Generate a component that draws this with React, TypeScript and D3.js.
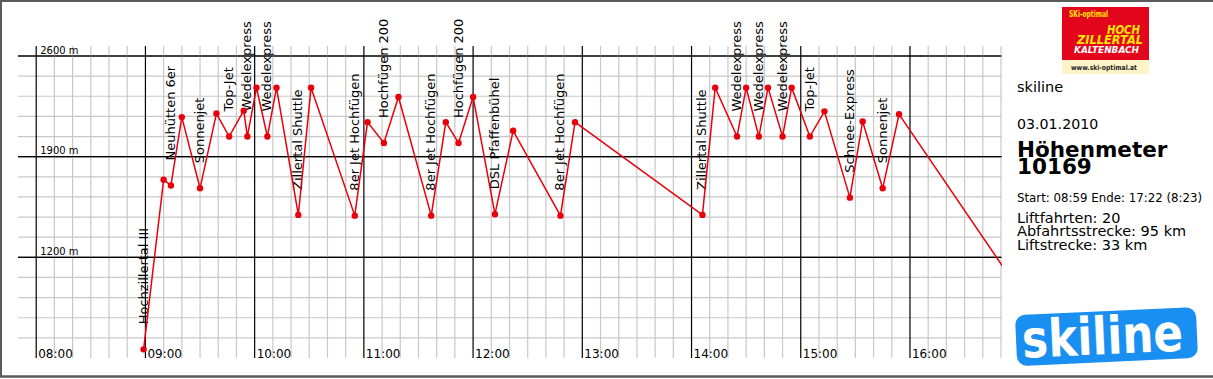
import React from "react";
import * as d3 from "d3";

// ---- data ----
const pointTimes = [
  "08:59", "09:10", "09:14", "09:20", "09:30", "09:39", "09:46", "09:54", "09:56", "10:01",
  "10:07", "10:12", "10:24", "10:31", "10:55", "11:02", "11:11", "11:19", "11:37", "11:45",
  "11:52", "12:00", "12:12", "12:22", "12:48", "12:56", "14:06", "14:13", "14:25", "14:30",
  "14:37", "14:42", "14:50", "14:55", "15:05", "15:13", "15:27", "15:34", "15:45", "15:54",
  "17:22",
];
const pointAltitudes = [
  560, 1740, 1700, 2175, 1680, 2200, 2040, 2220, 2040, 2380,
  2040, 2380, 1495, 2380, 1490, 2140, 1995, 2315, 1490, 2140,
  1995, 2315, 1500, 2080, 1490, 2140, 1495, 2380, 2040, 2380,
  2040, 2380, 2040, 2380, 2040, 2215, 1615, 2145, 1680, 2195,
  560,
];
// index of the point where each lift ride starts
const liftStartIndex = [0, 2, 4, 6, 8, 10, 12, 14, 16, 18, 20, 22, 24, 26, 28, 30, 32, 34, 36, 38];
const liftNames = [
  "Hochzillertal III", "Neuhütten 6er", "Sonnenjet", "Top-Jet", "Wedelexpress", "Wedelexpress",
  "Zillertal Shuttle", "8er Jet Hochfügen", "Hochfügen 2000", "8er Jet Hochfügen", "Hochfügen 2000",
  "DSL Pfaffenbühel", "8er Jet Hochfügen", "Zillertal Shuttle", "Wedelexpress", "Wedelexpress",
  "Wedelexpress", "Top-Jet", "Schnee-Express", "Sonnenjet",
];
const hourLabels = ["08:00", "09:00", "10:00", "11:00", "12:00", "13:00", "14:00", "15:00", "16:00"];
const altitudeLabels = [2600, 1900, 1200];
const timeDomain = ["07:50", "16:50"];
const altitudeDomain = [500, 2600];

const infoTitle = "skiline";
const infoDate = "03.01.2010";
const infoHeadline = "Höhenmeter";
const infoTotal = "10169";
const infoStartEnd = "Start: 08:59 Ende: 17:22 (8:23)";
const infoStats = ["Liftfahrten: 20", "Abfahrtsstrecke: 95 km", "Liftstrecke: 33 km"];

const FONT = "'DejaVu Sans', sans-serif";

export default function App() {
  const W = 1213, H = 379;
  const parse = d3.timeParse("%H:%M");
  const x = d3.scaleTime()
    .domain([parse(timeDomain[0])!, parse(timeDomain[1])!])
    .range([18, 1001]);
  const y = d3.scaleLinear().domain(altitudeDomain).range([358, 56]);

  const gridTop = 46;
  const gridBottom = y(altitudeDomain[0]);

  // vertical grid ticks every 10 min from 08:00
  const vTicks = d3.timeMinute.every(10)!.range(parse("08:00")!, d3.timeMinute.offset(parse(timeDomain[1])!, 1));
  const hourSet = new Set(hourLabels);
  const fmt = d3.timeFormat("%H:%M");

  // horizontal grid lines every 140 m
  const hTicks = d3.range(altitudeDomain[1], altitudeDomain[0], -140);
  const majorAlt = new Set(altitudeLabels);

  const pts = pointTimes.map((t, i) => ({ t: parse(t)!, a: pointAltitudes[i] }));
  const line = d3.line<{ t: Date; a: number }>().x((d) => x(d.t)).y((d) => y(d.a));

  const red = "#e8000b";

  return (
    <svg width={W} height={H} style={{ position: "absolute", left: 0, top: 0, background: "#fff" }} fontFamily={FONT}>
      <defs>
        <clipPath id="plotClip">
          <rect x={18} y={0} width={1001 - 18 + 1} height={H} />
        </clipPath>
        <clipPath id="labelClip">
          <rect x={0} y={19} width={1001} height={H} />
        </clipPath>
      </defs>
      <rect x={0} y={0} width={W} height={H} fill="#fff" />

      {/* horizontal grid */}
      {hTicks.map((a) => (
        <line key={"h" + a} x1={18} x2={1001.5} y1={y(a)} y2={y(a)}
          stroke={majorAlt.has(a) ? "#000" : "#c8c8c8"} strokeWidth={majorAlt.has(a) ? 1.2 : 1.2} />
      ))}
      {/* vertical grid */}
      {vTicks.map((t) => {
        const major = hourSet.has(fmt(t));
        return (
          <line key={"v" + +t} x1={x(t)} x2={x(t)} y1={gridTop} y2={gridBottom}
            stroke={major ? "#000" : "#c8c8c8"} strokeWidth={1.2} />
        );
      })}
      {/* redraw major horizontal lines on top */}
      {altitudeLabels.map((a) => (
        <line key={"hm" + a} x1={18} x2={1001.5} y1={y(a)} y2={y(a)} stroke="#000" strokeWidth={1.2} />
      ))}

      {/* axis labels */}
      {altitudeLabels.map((a) => (
        <text key={"al" + a} x={x(parse("08:00")!) + 4} y={y(a) - 2.5} fontSize={10} fill="#000">
          {a} m
        </text>
      ))}
      {hourLabels.map((h) => (
        <text key={"hl" + h} x={x(parse(h)!) + 2} y={gridBottom} fontSize={12} fill="#000">
          {h}
        </text>
      ))}

      {/* lift labels */}
      <g clipPath="url(#labelClip)">
        {liftStartIndex.map((idx, i) => {
          const px = x(pts[idx].t);
          const py = y(pts[idx].a);
          return (
            <text key={"lift" + i} transform={`translate(${px + 4},${py - 25}) rotate(-90)`}
              fontSize={13} fill="#000">
              {liftNames[i]}
            </text>
          );
        })}
      </g>

      {/* altitude profile */}
      <g clipPath="url(#plotClip)">
        <path d={line(pts)!} fill="none" stroke={red} strokeWidth={1.5} />
        {pts.map((p, i) => (
          <circle key={"p" + i} cx={x(p.t)} cy={y(p.a)} r={3.2} fill={red} />
        ))}
      </g>

      {/* Ski-optimal logo */}
      <g>
        <rect x={1062} y={7} width={87} height={53} fill="#e3051b" />
        <rect x={1062} y={60} width={87} height={14} fill="#fdf5c9" />
        <text x={1069} y={17} fontSize={8} fontWeight="bold" fill="#ffe600" textLength={39} lengthAdjust="spacingAndGlyphs">SKi-optimal</text>
        <text x={1107} y={34} fontSize={12} fontWeight="bold" fontStyle="italic" fill="#ffe600" textLength={33} lengthAdjust="spacingAndGlyphs">HOCH</text>
        <text x={1077} y={44} fontSize={12} fontWeight="bold" fontStyle="italic" fill="#ffe600" textLength={66} lengthAdjust="spacingAndGlyphs">ZILLERTAL</text>
        <text x={1074} y={52.5} fontSize={8.5} fontWeight="bold" fontStyle="italic" fill="#fff" textLength={65} lengthAdjust="spacingAndGlyphs">KALTENBACH</text>
        <text x={1071} y={69.5} fontSize={7} fontWeight="bold" fill="#222" textLength={66} lengthAdjust="spacingAndGlyphs">www.ski-optimal.at</text>
      </g>

      {/* info panel */}
      <text x={1017} y={92} fontSize={14.5} fill="#000">{infoTitle}</text>
      <text x={1017} y={129.3} fontSize={14.2} fill="#000">{infoDate}</text>
      <text x={1017} y={156.7} fontSize={21.5} fontWeight="bold" fill="#000">{infoHeadline}</text>
      <text x={1017} y={173.7} fontSize={21.5} fontWeight="bold" fill="#000">{infoTotal}</text>
      <text x={1017} y={201.5} fontSize={11.8} fill="#000">{infoStartEnd}</text>
      {infoStats.map((s, i) => (
        <text key={"st" + i} x={1017} y={222.5 + i * 13.6} fontSize={14.5} fill="#000">{s}</text>
      ))}

      {/* skiline logo */}
      <g transform="rotate(-2.6 1107 337)">
        <rect x={1016} y={311} width={181} height={51} rx={10} fill="#1a8ff2" />
        <text x={1022} y={354} fontSize={52} fontWeight="bold" fill="#fff" textLength={161} lengthAdjust="spacingAndGlyphs">skiline</text>
      </g>

      {/* frame */}
      <line x1={0} x2={W} y1={1} y2={1} stroke="#5a5a5a" strokeWidth={2} />
      <line x1={1} x2={1} y1={0} y2={377} stroke="#5a5a5a" strokeWidth={2} />
      <line x1={0} x2={W} y1={376.5} y2={376.5} stroke="#5a5a5a" strokeWidth={2.5} />
    </svg>
  );
}
